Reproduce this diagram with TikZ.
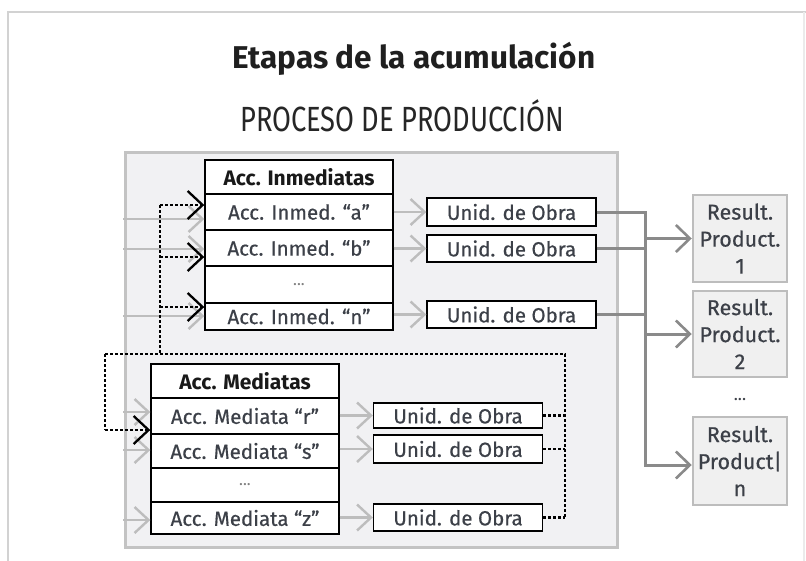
\documentclass[tikz,border=0pt]{standalone}
\usepackage{fontspec}
\setmainfont{Fira Sans}
\newfontfamily\subfont{Fira Sans}[FakeStretch=0.78]
\newfontfamily\medfont{Fira Sans}[FakeBold=0.5]
\usetikzlibrary{arrows.meta}
\definecolor{framec}{HTML}{D2D2D2}
\definecolor{boxfill}{HTML}{F1F1F3}
\definecolor{boxline}{HTML}{C3C3C3}
\definecolor{garr}{HTML}{BDBDBD}
\definecolor{conn}{HTML}{8A8A8A}
\definecolor{txtgray}{HTML}{3C4048}
\definecolor{resfill}{HTML}{F0F0F0}
\definecolor{resline}{HTML}{BDBDBD}
\tikzset{
  cell/.style={draw=black, line width=1.4pt, fill=white, minimum width=188pt, inner sep=0pt, text=txtgray, font=\medfont\fontsize{20.5}{22}\selectfont},
  headcell/.style={cell, text=black!90, font=\fontsize{21}{23}\selectfont\bfseries},
  dotcell/.style={cell, text=gray, font=\fontsize{16}{18}\selectfont},
  unid/.style={draw=black, line width=1.4pt, fill=white, minimum width=169pt, inner sep=0pt, text=txtgray, font=\medfont\fontsize{20.5}{22}\selectfont},
  res/.style={draw=resline, line width=2.5pt, fill=resfill, minimum width=94pt, inner sep=0pt, align=center, text=txtgray, font=\medfont\fontsize{21.5}{27}\selectfont},
  garrow/.style={draw=garr, line width=2.6pt, -{Straight Barb[length=14pt,width=26pt,line width=2.4pt]}},
  barrow/.style={draw=black, line width=2.6pt, dash pattern=on 3pt off 2pt, -{Straight Barb[length=15pt,width=28pt,line width=2.3pt]}},
  bdot/.style={draw=black, line width=2.6pt, dash pattern=on 3pt off 2pt},
  cline/.style={draw=conn, line width=3pt},
  carrow/.style={cline, -{Straight Barb[length=14pt,width=27pt,line width=2.6pt]}}
}
\begin{document}
\begin{tikzpicture}[x=1pt,y=-1pt]
\useasboundingbox (0,0) rectangle (806,560);
\fill[white] (0,0) rectangle (806,560);
% outer frame
\draw[framec, line width=2pt] (8,562) -- (8,12) -- (806,12);
\draw[framec!45, line width=1.5pt] (804,12) -- (804,562);
% titles
\node[anchor=base, text=black!88, inner sep=0pt] (title) at (414,68) {\fontsize{31.5}{33}\selectfont\bfseries Etapas de la acumulación};
\node[anchor=base, text=black!85, inner sep=0pt] (sub) at (402,131) {\subfont\fontsize{35}{37}\selectfont PROCESO DE PRODUCCIÓN};
% main box
\node[draw=boxline, fill=boxfill, line width=3pt, minimum width=492pt, minimum height=395pt, inner sep=0pt] (main) at (371,349.5) {};
% Inmediatas table
\node[headcell, minimum height=34pt] (ih) at (299,177) {Acc. Inmediatas};
\node[cell, minimum height=36pt] (ia) at (299,212) {Acc. Inmed. “a”};
\node[cell, minimum height=36pt] (ib) at (299,248) {Acc. Inmed. “b”};
\node[dotcell, minimum height=37pt] (id) at (299,284.5) {...};
\node[cell, minimum height=27pt] (in) at (299,316.5) {Acc. Inmed. “n”};
% Mediatas table
\node[headcell, minimum height=34pt] (mh) at (245,381) {Acc. Mediatas};
\node[cell, minimum height=36pt] (mr) at (245,416) {Acc. Mediata “r”};
\node[cell, minimum height=34pt] (ms) at (245,451) {Acc. Mediata “s”};
\node[dotcell, minimum height=34pt] (md) at (245,485) {...};
\node[cell, minimum height=32pt] (mz) at (245,518) {Acc. Mediata “z”};
% Unid. de Obra boxes
\node[unid, minimum height=28pt] (ua) at (511.5,212) {Unid. de Obra};
\node[unid, minimum height=27pt] (ub) at (511.5,248.5) {Unid. de Obra};
\node[unid, minimum height=27pt] (uc) at (511.5,314.5) {Unid. de Obra};
\node[unid, minimum height=25pt] (ur) at (458,415.5) {Unid. de Obra};
\node[unid, minimum height=28pt] (us) at (458,449) {Unid. de Obra};
\node[unid, minimum height=27pt] (uz) at (458,517.5) {Unid. de Obra};
% Result boxes
\node[res, minimum height=87pt] (r1) at (740,238.5) {Result.\\Product.\\1};
\node[res, minimum height=86pt] (r2) at (740,334) {Result.\\Product.\\2};
\node[text=txtgray, font=\fontsize{17}{19}\selectfont] (rd) at (740,400) {...};
\node[res, minimum height=88pt] (rn) at (740,461) {Result.\\Product|\\n};
% gray arrows: rows to unid
\draw[garrow] (ia.east |- ua.west) -- (ua.west);
\draw[garrow] (ib.east |- ub.west) -- (ub.west);
\draw[garrow] (in.east |- uc.west) -- (uc.west);
\draw[garrow] (mr.east |- ur.west) -- (ur.west);
\draw[garrow] (ms.east |- us.west) -- (us.west);
\draw[garrow] (mz.east |- uz.west) -- (uz.west);
% gray input arrows
\coordinate (ga) at (123,219);
\coordinate (gb) at (123,249);
\coordinate (gn) at (123,316);
\coordinate (gr) at (123,412);
\coordinate (gs) at (123,450);
\coordinate (gz) at (123,520);
\draw[garrow] (ga) -- (ga -| ia.west);
\draw[garrow] (gb) -- (gb -| ib.west);
\draw[garrow] (gn) -- (gn -| in.west);
\draw[garrow] (gr) -- (gr -| mr.west);
\draw[garrow] (gs) -- (gs -| ms.west);
\draw[garrow] (gz) -- (gz -| mz.west);
% black dotted feedback
\coordinate (da) at (160,205);
\coordinate (db) at (160,257);
\coordinate (dn) at (160,307);
\coordinate (dt) at (160,354);
\coordinate (dl) at (105,354);
\coordinate (dr) at (565,354);
\coordinate (dlb) at (105,430);
\coordinate (drb) at (565,517.5);
\draw[bdot] (da) -- (dt);
\draw[bdot] (dl) -- (dr) -- (drb);
\draw[bdot] (dl) -- (dlb);
\draw[barrow] (da) -- (da -| ia.west);
\draw[barrow] (db) -- (db -| ib.west);
\draw[barrow] (dn) -- (dn -| in.west);
\draw[barrow] (dlb) -- (dlb -| mr.west);
\draw[bdot] (ur.east) -- (ur.east -| dr);
\draw[bdot] (us.east) -- (us.east -| dr);
\draw[bdot] (uz.east) -- (uz.east -| dr);
% dark connectors
\coordinate (jn) at (645,465);
\draw[carrow] (ua.east) -| (jn) -- (jn -| rn.west);
\draw[cline] (ub.east) -- (ub.east -| jn);
\draw[cline] (uc.east) -- (uc.east -| jn);
\draw[carrow] (jn |- r1.west) -- (r1.west);
\draw[carrow] (jn |- r2.west) -- (r2.west);
\end{tikzpicture}
\end{document}
